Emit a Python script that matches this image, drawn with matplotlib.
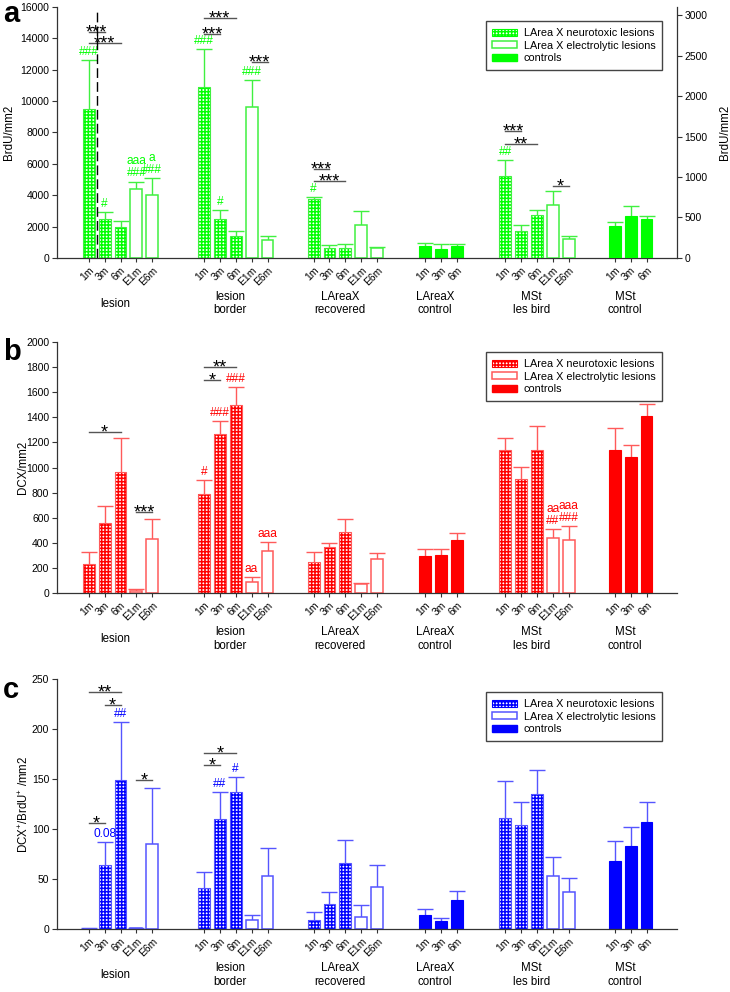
import matplotlib.pyplot as plt
from matplotlib.patches import Patch

plt.rcParams['font.family'] = ['Liberation Sans', 'DejaVu Sans']
plt.rcParams['mathtext.fontset'] = 'custom'
plt.rcParams['mathtext.rm'] = 'Liberation Sans'
plt.rcParams['hatch.linewidth'] = 1.1

groups = ['lesion', 'lesion\nborder', 'LAreaX\nrecovered', 'LAreaX\ncontrol',
          'MSt\nles bird', 'MSt\ncontrol']
lesion_ticks = ['1m', '3m', '6m', 'E1m', 'E6m']
control_ticks = ['1m', '3m', '6m']
group_ticks = [lesion_ticks, lesion_ticks, lesion_ticks, control_ticks,
               lesion_ticks, control_ticks]

# panel a, BrdU/mm2 (MSt groups are read on the right axis)
brdu_mean = [[9500, 2450, 1980, 4400, 3980],
             [10900, 2450, 1400, 9640, 1130],
             [3770, 660, 660, 2090, 620],
             [790, 570, 770],
             [1018, 338, 527, 659, 239],
             [400, 515, 482]]
brdu_err = [[3100, 490, 400, 470, 1110],
            [2400, 630, 320, 1720, 270],
            [140, 170, 210, 910, 60],
            [150, 320, 140],
            [189, 66, 66, 169, 37],
            [45, 124, 41]]

# panel b, DCX/mm2
dcx_mean = [[231, 558, 964, 19, 430],
            [789, 1267, 1500, 88, 335],
            [247, 364, 486, 74, 274],
            [292, 305, 425],
            [1139, 908, 1139, 436, 425],
            [1137, 1081, 1410]]
dcx_err = [[93, 132, 271, 13, 160],
           [114, 103, 139, 39, 69],
           [77, 34, 104, 8, 42],
           [61, 45, 53],
           [99, 93, 189, 74, 106],
           [175, 98, 93]]

# panel c, DCX+/BrdU+ /mm2
ratio_mean = [[1.3, 64, 149, 1.3, 85],
              [41, 110, 137, 9, 53],
              [8.7, 25.3, 66, 12.3, 41.7],
              [13.7, 7.7, 28.7],
              [111, 104.3, 135, 52.7, 37.3],
              [68, 82.7, 107.3]]
ratio_err = [[0, 23, 58, 0, 56],
             [16, 27, 15, 5.3, 28],
             [8, 11.4, 22.7, 12, 22.6],
             [6.3, 3.3, 9.3],
             [36.7, 23, 24.3, 19.3, 13.4],
             [19.7, 19, 19.7]]

# significance bars: (group, from bar, to bar, y, stars)
sig_a = [(0, 0, 1, 14390, '***'), (0, 0, 2, 13710, '***'),
         (1, 0, 1, 14300, '***'), (1, 0, 2, 15300, '***'), (1, 3, 4, 12470, '***'),
         (2, 0, 1, 5670, '***'), (2, 0, 2, 4930, '***'),
         (4, 0, 1, 1566, '***'), (4, 0, 2, 1413, '**'), (4, 3, 4, 894, '*')]
sig_b = [(0, 0, 2, 1283, '*'), (0, 3, 4, 645, '***'),
         (1, 0, 1, 1700, '*'), (1, 0, 2, 1801, '**')]
sig_c = [(0, 0, 1, 106, '*'), (0, 0, 2, 236.7, '**'), (0, 1, 2, 224, '*'),
         (0, 3, 4, 149.3, '*'), (1, 0, 1, 164, '*'), (1, 0, 2, 176, '*')]

# marks above the bars: (group, bar, text)
marks_a = [(0, 0, '###'), (0, 1, '#'), (0, 3, 'aaa\n###'), (0, 4, 'a\n###'),
           (1, 0, '###'), (1, 1, '#'), (1, 3, '###'), (2, 0, '#'), (4, 0, '##')]
marks_b = [(1, 0, '#'), (1, 1, '###'), (1, 2, '###'), (1, 3, 'aa'), (1, 4, 'aaa'),
           (4, 3, 'aa\n##'), (4, 4, 'aaa\n###')]
marks_c = [(0, 1, '0.08'), (0, 2, '##'), (1, 1, '##'), (1, 2, '#')]

legend_labels = ['LArea X neurotoxic lesions', 'LArea X electrolytic lesions', 'controls']

group_start = [0, 7.25, 14.15, 21.15, 26.2, 33.1]
width = 0.75
axis_col = '#333333'
HATCH = '+++++'

fig = plt.figure(figsize=(7.3, 9.92), dpi=100)


def style_axis(ax, right=False):
    for s in ['top', 'right', 'left', 'bottom']:
        ax.spines[s].set_visible(False)
    ax.spines['bottom'].set_visible(True)
    ax.spines['right' if right else 'left'].set_visible(True)
    for s in ax.spines.values():
        s.set_color(axis_col)
        s.set_linewidth(0.9)
    ax.tick_params(direction='out', length=3.5, width=0.8, color=axis_col,
                   labelsize=7.5, pad=2)


def draw_panel(rect, means, errs, color, light, ylim, yticks, ylabel, sigs, marks,
               leg_anchor, letter, letter_y, right_axis=None):
    ax = fig.add_axes(rect)
    style_axis(ax)
    ax.set_xlim(-2.0, 37.0)
    ax.set_ylim(*ylim)
    ax.set_yticks(yticks)
    ax.set_yticklabels([str(t) for t in yticks])
    ax2 = None
    if right_axis is not None:
        ax2 = ax.twinx()
        ax2.set_xlim(-2.0, 37.0)
        style_axis(ax2, right=True)
        ax2.spines['bottom'].set_visible(False)
        ax2.set_ylim(*right_axis[0])
        ax2.set_yticks(right_axis[1])
        ax2.set_yticklabels([str(t) for t in right_axis[1]])
        ax2.set_ylabel(ylabel, fontsize=8.3, labelpad=8)

    xs_all, lab_all = [], []
    pos = []
    for g, (m, e) in enumerate(zip(means, errs)):
        tgt = ax2 if (ax2 is not None and g >= 4) else ax
        xs = [group_start[g] + i for i in range(len(m))]
        pos.append(xs)
        xs_all += xs
        lab_all += group_ticks[g]
        for i, (x, v) in enumerate(zip(xs, m)):
            if len(m) == 3:
                tgt.bar(x, v, width, color=color, edgecolor=color, linewidth=0.8, zorder=2)
            elif i < 3:
                tgt.bar(x, v, width, color='white', edgecolor=color, hatch=HATCH,
                        linewidth=0, zorder=2)
                tgt.bar(x, v, width, color='none', edgecolor=light, linewidth=0.8, zorder=2)
            else:
                tgt.bar(x, v, width, color='white', edgecolor=light, linewidth=1.1, zorder=2)
        eb = tgt.errorbar(xs, m, yerr=[[0] * len(e), e], fmt='none', ecolor=light,
                          elinewidth=1.0, capsize=5.5, capthick=1.0, zorder=1)
        eb[1][0].set_visible(False)  # no cap at the bar top
        tgt.annotate(groups[g], xy=(sum(xs) / len(xs), 0),
                     xycoords=('data', 'axes fraction'), xytext=(-4, -33),
                     textcoords='offset points', ha='center', va='center',
                     fontsize=8.3, linespacing=1.15, annotation_clip=False)

    ax.set_xticks(xs_all)
    ax.set_xticklabels(lab_all, rotation=45, ha='right', rotation_mode='anchor',
                       fontsize=7.5)
    ax.tick_params(axis='x', length=3, pad=2)

    for g, i, j, y, txt in sigs:
        tgt = ax2 if (ax2 is not None and g >= 4) else ax
        x0, x1 = pos[g][i], pos[g][j]
        tgt.plot([x0, x1], [y, y], color='#555555', lw=1.0, zorder=3)
        tgt.annotate(txt, xy=((x0 + x1) / 2, y), xytext=(0, -4), textcoords='offset points',
                     ha='center', va='baseline', fontsize=13, color='black')

    for g, i, txt in marks:
        tgt = ax2 if (ax2 is not None and g >= 4) else ax
        top = means[g][i] + errs[g][i]
        tgt.annotate(txt, xy=(pos[g][i], top), xytext=(0, 1.5), textcoords='offset points',
                     ha='center', va='bottom', fontsize=8.6, color=color, linespacing=1.0)

    ax.set_ylabel(ylabel, fontsize=8.3)
    handles = [Patch(facecolor='white', edgecolor=color, hatch=HATCH, linewidth=0.8),
               Patch(facecolor='white', edgecolor=light, linewidth=1.1),
               Patch(facecolor=color, edgecolor=color)]
    leg_ax = ax2 if ax2 is not None else ax
    leg = leg_ax.legend(handles, legend_labels, loc='upper right', bbox_to_anchor=leg_anchor,
                        fontsize=7.8, frameon=True, fancybox=False, framealpha=1,
                        edgecolor='#444444', handlelength=2.3, handleheight=0.6,
                        labelspacing=0.25, borderpad=0.6, handletextpad=0.6)
    leg.get_frame().set_linewidth(1.0)
    fig.text(0.004, letter_y, letter, fontsize=21, fontweight='bold', va='baseline')
    return ax, ax2


ax_a, ax_a2 = draw_panel([0.078, 0.740, 0.849, 0.253], brdu_mean, brdu_err,
                         '#00ff00', '#40f040', (0, 16000), list(range(0, 16001, 2000)),
                         'BrdU/mm2', sig_a, marks_a, (0.985, 0.964), 'a', 1 - 22 / 992,
                         right_axis=((0, 3103), list(range(0, 3001, 500))))
ax_a.yaxis.set_label_coords(-0.068, 0.5)
# dashed separator between 1m and 3m of the lesion group
ax_a.plot([group_start[0] + 0.5] * 2, [0, 15700], color='black', lw=1.0,
          dashes=(7, 3), zorder=4)

ax_b, _ = draw_panel([0.078, 0.4022, 0.849, 0.253], dcx_mean, dcx_err,
                     '#ff0000', '#ff5a5a', (0, 2000), list(range(0, 2001, 200)),
                     'DCX/mm2', sig_b, marks_b, (0.985, 0.980), 'b', 1 - 360 / 992)
ax_b.yaxis.set_label_coords(-0.045, 0.5)

ax_c, _ = draw_panel([0.078, 0.0635, 0.849, 0.252], ratio_mean, ratio_err,
                     '#0000ff', '#5555ff', (0, 250), list(range(0, 251, 50)),
                     r'DCX$^{+}$/BrdU$^{+}$ /mm2', sig_c, marks_c, (0.985, 0.968), 'c',
                     1 - 698 / 992)
ax_c.yaxis.set_label_coords(-0.042, 0.5)

fig.savefig('out.png', dpi=100)
